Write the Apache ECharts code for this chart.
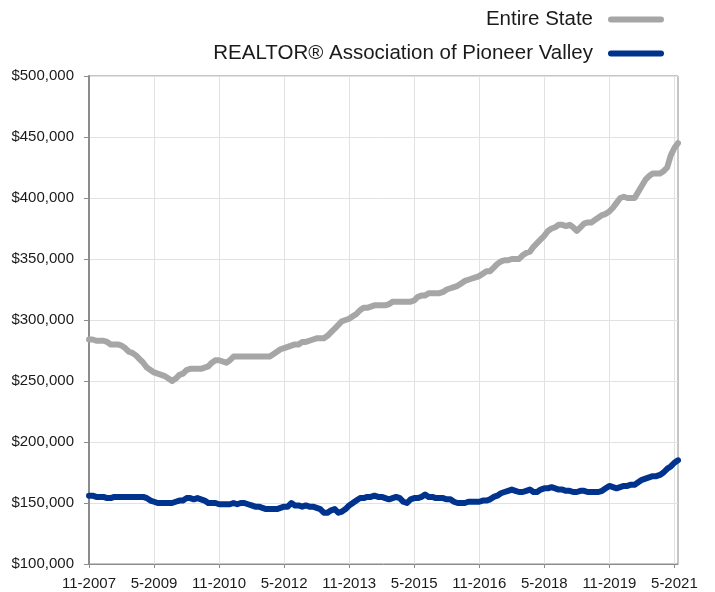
<!DOCTYPE html>
<html lang="en">
<head>
  <meta charset="UTF-8">
  <title>Median Sales Price</title>
  <script src="https://cdn.jsdelivr.net/npm/echarts@6.0.0/dist/echarts.min.js"></script>
  <style>
    html, body { margin: 0; padding: 0; background: #fff; }
    #chart { width: 715px; height: 592px; }
  </style>
</head>
<body>
<div id="chart"></div>
<script>
// monthly categories, 11-2007 .. 6-2021
var months = [];
for (var y = 2007, m = 11; y < 2021 || (y === 2021 && m <= 6); ) {
  months.push(m + '-' + y);
  m++;
  if (m > 12) { m = 1; y++; }
}

var seriesNames = ['Entire State', 'REALTOR® Association of Pioneer Valley'];

// values in thousands of dollars
var stateK = [
  284, 284, 283, 283, 283, 282, 280, 280, 280, 279, 277, 274,
  273, 271, 268, 265, 261, 259, 257, 256, 255, 254, 252, 250,
  252, 255, 256, 259, 260, 260, 260, 260, 261, 262, 265, 267,
  267, 266, 265, 267, 270, 270, 270, 270, 270, 270, 270, 270,
  270, 270, 270, 272, 274, 276, 277, 278, 279, 280, 280, 282,
  282, 283, 284, 285, 285, 285, 287, 290, 293, 296, 299, 300,
  301, 303, 305, 308, 310, 310, 311, 312, 312, 312, 312, 313,
  315, 315, 315, 315, 315, 315, 316, 319, 320, 320, 322, 322,
  322, 322, 323, 325, 326, 327, 328, 330, 332, 333, 334, 335,
  336, 338, 340, 340, 343, 346, 348, 349, 349, 350, 350, 350,
  353, 355, 356, 360, 363, 366, 369, 373, 375, 376, 378, 378,
  377, 378, 376, 373, 376, 379, 380, 380, 382, 384, 386, 387,
  389, 392, 396, 400, 401, 400, 400, 400, 405, 410, 415, 418,
  420, 420, 420, 422, 425, 435, 441, 445
];

var pioneerK = [
  156, 156, 155, 155, 155, 154, 154, 155, 155, 155, 155, 155,
  155, 155, 155, 155, 154, 152, 151, 150, 150, 150, 150, 150,
  151, 152, 152, 154, 154, 153, 154, 153, 152, 150, 150, 150,
  149, 149, 149, 149, 150, 149, 150, 150, 149, 148, 147, 147,
  146, 145, 145, 145, 145, 146, 147, 147, 150, 148, 148, 147,
  148, 147, 147, 146, 145, 142, 142, 144, 145, 142, 143, 145,
  148, 150, 152, 154, 154, 155, 155, 156, 155, 155, 154, 153,
  154, 155, 154, 151, 150, 153, 154, 154, 155, 157, 155, 155,
  154, 154, 154, 153, 153, 151, 150, 150, 150, 151, 151, 151,
  151, 152, 152, 153, 155, 156, 158, 159, 160, 161, 160, 159,
  159, 160, 161, 159, 159, 161, 162, 162, 163, 162, 161, 161,
  160, 160, 159, 159, 160, 160, 159, 159, 159, 159, 160, 162,
  164, 163, 162, 163, 164, 164, 165, 165, 167, 169, 170, 171,
  172, 172, 173, 175, 178, 180, 183, 185
];

var state = stateK.map(function (v) { return v * 1000; });
var pioneer = pioneerK.map(function (v) { return v * 1000; });

function money(v) {
  return '$' + String(v).replace(/\B(?=(\d{3})+(?!\d))/g, ',');
}

var font = '"Liberation Sans", Arial, Helvetica, sans-serif';
var pill = 'path://M3,0 L53,0 A3,3 0 0 1 53,6 L3,6 A3,3 0 0 1 3,0 Z';

var chart = echarts.init(document.getElementById('chart'));
chart.setOption({
  animation: false,
  backgroundColor: '#fff',
  textStyle: { fontFamily: font },
  legend: {
    orient: 'vertical',
    right: 46,
    top: 4,
    align: 'right',
    itemWidth: 56,
    itemHeight: 7,
    itemGap: 13,
    icon: pill,
    textStyle: { fontSize: 20.5, color: '#1a1a1a', fontFamily: font, padding: [0, 10, 0, 0] },
    data: seriesNames
  },
  grid: {
    left: 89, right: 37, top: 76, bottom: 28,
    show: true, borderColor: '#8c8c8c', borderWidth: 1
  },
  xAxis: {
    type: 'category',
    data: months,
    boundaryGap: false,
    axisLine: { lineStyle: { color: '#8c8c8c', width: 1 } },
    axisTick: { show: true, interval: 17, length: 4, lineStyle: { color: '#8c8c8c' } },
    axisLabel: { interval: 17, fontSize: 15, color: '#1a1a1a', margin: 12 },
    splitLine: { show: true, interval: 17, lineStyle: { color: '#e2e2e2', width: 1 } }
  },
  yAxis: {
    type: 'value',
    min: 100000, max: 500000, interval: 50000,
    axisLine: { show: true, lineStyle: { color: '#8c8c8c', width: 2 } },
    axisTick: { show: true, length: 5, lineStyle: { color: '#8c8c8c' } },
    axisLabel: { fontSize: 15, color: '#1a1a1a', margin: 15, formatter: money },
    splitLine: { show: true, lineStyle: { color: '#e2e2e2', width: 1 } }
  },
  series: [
    {
      name: seriesNames[0], type: 'line', data: state,
      showSymbol: false, symbol: 'none',
      itemStyle: { color: '#a6a6a6' },
      lineStyle: { color: '#a6a6a6', width: 6, cap: 'round', join: 'round' }
    },
    {
      name: seriesNames[1], type: 'line', data: pioneer,
      showSymbol: false, symbol: 'none',
      itemStyle: { color: '#00338e' },
      lineStyle: { color: '#00338e', width: 6, cap: 'round', join: 'round' }
    }
  ]
});
</script>
</body>
</html>
